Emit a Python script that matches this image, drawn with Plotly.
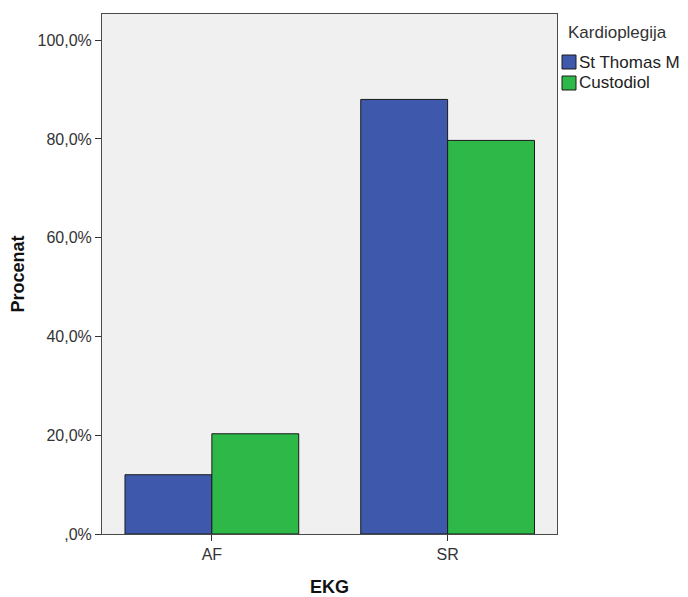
import plotly.graph_objects as go

categories = ["AF", "SR"]
series_names = ["St Thomas M", "Custodiol"]
st_thomas = [12.0, 88.0]
custodiol = [20.3, 79.7]
colors = ["#3E58AC", "#2EB848"]
y_ticks = [0, 20, 40, 60, 80, 100]
y_tick_labels = [",0%", "20,0%", "40,0%", "60,0%", "80,0%", "100,0%"]
legend_title = "Kardioplegija"

FONT = "Arial, Liberation Sans, sans-serif"
OFF = 8  # page body margin in the browser
W, H = 688 - OFF, 597 - OFF
L, T = 102 - OFF, 14 - OFF
R = W - (557 - OFF)
B = H - (534 - OFF)
pw, ph = W - L - R, H - T - B

def px(x):
    return (x - OFF - L) / pw

def py(y):
    return 1 - (y - OFF - T) / ph

fig = go.Figure()
for name, vals, c in zip(series_names, [st_thomas, custodiol], colors):
    fig.add_trace(go.Bar(x=categories, y=vals, name=name, marker_color=c,
                         marker_line=dict(color="#1a1a1a", width=1), showlegend=False))

fig.update_layout(
    width=W, height=H,
    margin=dict(l=L, r=R, t=T, b=B, autoexpand=False),
    paper_bgcolor="white", plot_bgcolor="#F0F0F0",
    barmode="group", bargap=0.263, bargroupgap=0,
    font=dict(family=FONT, size=16, color="#333333"),
)
fig.update_xaxes(range=[-0.466, 1.464], showline=True, linecolor="#4a4a4a", linewidth=1,
                 mirror=True, ticks="outside", ticklen=6, tickcolor="#333333",
                 showgrid=False, automargin=False, tickfont=dict(size=16, color="#333333"),
                 title=dict(text="<b>EKG</b>", font=dict(size=18, color="#111111"), standoff=18))
fig.update_yaxes(range=[0, 105.3], tickvals=y_ticks, ticktext=y_tick_labels,
                 showline=True, linecolor="#4a4a4a", linewidth=1, mirror=True,
                 ticks="outside", ticklen=6, tickcolor="#333333", showgrid=False,
                 zeroline=False, automargin=False, tickfont=dict(size=16, color="#333333"),
                 title=dict(text="<b>Procenat</b>", font=dict(size=18, color="#111111"), standoff=8))

# manual legend
fig.add_annotation(x=px(566), y=py(33), xref="paper", yref="paper", text=legend_title,
                   showarrow=False, xanchor="left", yanchor="middle",
                   font=dict(size=17, color="#333333"))
for i, (name, c) in enumerate(zip(series_names, colors)):
    yc = 62 + i * 21
    fig.add_shape(type="rect", xref="paper", yref="paper",
                  x0=px(562), x1=px(576), y0=py(yc + 7), y1=py(yc - 7),
                  fillcolor=c, line=dict(color="#1a1a1a", width=1))
    fig.add_annotation(x=px(577), y=py(yc), xref="paper", yref="paper", text=name,
                       showarrow=False, xanchor="left", yanchor="middle",
                       font=dict(size=17, color="#222222"))

fig.write_html("out.html")
